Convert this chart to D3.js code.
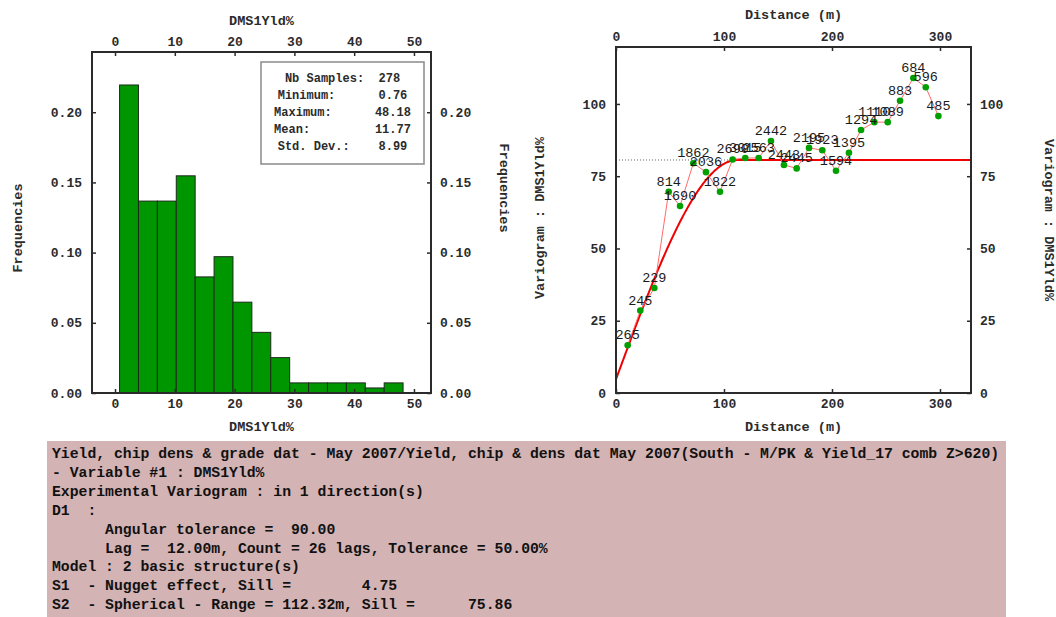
<!DOCTYPE html>
<html>
<head>
<meta charset="utf-8">
<script src="https://cdn.jsdelivr.net/npm/d3@7"></script>
<style>
  body { margin: 0; background: #fff; }
  svg { display: block; }
  text { font-family: "Liberation Mono", "DejaVu Sans Mono", monospace; }
</style>
</head>
<body>
<svg id="chart" width="1056" height="617"></svg>
<script>
// ---- Histogram of DMS1Yld% ----
const binStart = 0.76;
const binEnd = 48.18;
const binFreq = [0.2194, 0.1367, 0.1367, 0.1547, 0.0827, 0.0971, 0.0647, 0.0432,
                 0.0252, 0.0072, 0.0072, 0.0072, 0.0072, 0.0036, 0.0072];
const histXTicks = [0, 10, 20, 30, 40, 50];
const histYTicks = [0, 0.05, 0.10, 0.15, 0.20];
const statLabels = ["Nb Samples:", "Minimum:", "Maximum:", "Mean:", "Std. Dev.:"];
const statValues = ["278", "0.76", "48.18", "11.77", "8.99"];
const statGaps = [2, 6, 6, 9, 4];

// ---- Experimental variogram (lag 12 m) ----
const lagDist = [10.8, 22.5, 35.5, 48.8, 59.3, 71.6, 83.3, 96.3, 108.0, 119.7, 132.1, 143.5, 155.5,
                 167.3, 178.7, 191.0, 203.7, 215.7, 226.9, 239.2, 251.6, 263.0, 275.3, 286.8, 298.5];
const lagGamma = [16.5, 28.5, 36.3, 69.6, 64.7, 79.5, 76.4, 69.6, 80.8, 81.3, 81.3, 87.2, 78.9,
                  77.7, 84.8, 84.0, 76.9, 83.1, 91.0, 93.7, 93.7, 101.1, 109.0, 105.8, 95.8];
const lagPairs = [265, 245, 229, 814, 1690, 1862, 2036, 1822, 2690, 3015, 2563, 2442, 2443,
                  2445, 2195, 1923, 1594, 1395, 1294, 1110, 1089, 883, 684, 596, 485];
const vgXTicks = [0, 100, 200, 300];
const vgYTicks = [0, 25, 50, 75, 100];
const nuggetSill = 4.75;
const sphSill = 75.86;
const sphRange = 112.32;

// ---- Report text ----
const reportLines = [
  "Yield, chip dens & grade dat - May 2007/Yield, chip & dens dat May 2007(South - M/PK & Yield_17 comb Z>620)",
  "- Variable #1 : DMS1Yld%",
  "Experimental Variogram : in 1 direction(s)",
  "D1  :",
  "      Angular tolerance =  90.00",
  "      Lag =  12.00m, Count = 26 lags, Tolerance = 50.00%",
  "Model : 2 basic structure(s)",
  "S1  - Nugget effect, Sill =        4.75",
  "S2  - Spherical - Range = 112.32m, Sill =      75.86"
];

const svg = d3.select("#chart");
const ink = "#2b2b2b";

svg.append("defs").append("clipPath").attr("id", "plots")
  .append("rect").attr("x", 0).attr("y", 0).attr("width", 1056).attr("height", 437);
const plots = svg.append("g").attr("clip-path", "url(#plots)");

// draws four framed axes with inward ticks
function frameAxes(g, x, y, xTicks, yTicks, yFmt, xFmt) {
  const [x0, x1] = x.range();
  const [y0, y1] = y.range(); // y0 bottom, y1 top
  const style = sel => {
    sel.select(".domain").remove();
    sel.selectAll(".tick line").attr("stroke", ink).attr("stroke-width", 1.5);
    sel.selectAll(".tick text").attr("fill", ink).attr("font-size", 13).attr("font-weight", "bold")
      .attr("font-family", "Liberation Mono, monospace");
  };
  g.append("g").attr("transform", `translate(0,${y0})`)
    .call(d3.axisBottom(x).tickValues(xTicks).tickFormat(xFmt).tickSizeInner(-4).tickSizeOuter(0).tickPadding(6))
    .call(style);
  g.append("g").attr("transform", `translate(0,${y1})`)
    .call(d3.axisTop(x).tickValues(xTicks).tickFormat(xFmt).tickSizeInner(-4).tickSizeOuter(0).tickPadding(6))
    .call(style);
  g.append("g").attr("transform", `translate(${x0},0)`)
    .call(d3.axisLeft(y).tickValues(yTicks).tickFormat(yFmt).tickSizeInner(-4).tickSizeOuter(0).tickPadding(10))
    .call(style);
  g.append("g").attr("transform", `translate(${x1},0)`)
    .call(d3.axisRight(y).tickValues(yTicks).tickFormat(yFmt).tickSizeInner(-4).tickSizeOuter(0).tickPadding(9))
    .call(style);
  g.append("rect").attr("x", x0).attr("y", y1).attr("width", x1 - x0).attr("height", y0 - y1)
    .attr("fill", "none").attr("stroke", ink).attr("stroke-width", 2);
}

function title(g, txt, x, y, rot) {
  g.append("text").attr("transform", `translate(${x},${y}) rotate(${rot || 0})`)
    .attr("text-anchor", "middle").attr("font-size", 13.5).attr("font-weight", "bold")
    .attr("fill", ink).text(txt);
}

// ================= Histogram =================
const hx = d3.scaleLinear().domain([-3.85, 52.85]).range([92, 431]);
const hy = d3.scaleLinear().domain([0, 0.2429]).range([393, 52]);
const hist = plots.append("g");
const binW = (binEnd - binStart) / binFreq.length;

hist.selectAll("rect.bar").data(binFreq).join("rect").attr("class", "bar")
  .attr("x", (d, i) => hx(binStart + i * binW))
  .attr("width", hx(binStart + binW) - hx(binStart))
  .attr("y", d => hy(d))
  .attr("height", d => hy(0) - hy(d))
  .attr("fill", "#009600").attr("stroke", "#1e2a1e").attr("stroke-width", 1);

frameAxes(hist, hx, hy, histXTicks, histYTicks, d3.format(".2f"), d3.format("d"));
title(hist, "DMS1Yld%", 261.5, 25);
title(hist, "DMS1Yld%", 261.5, 431);
title(hist, "Frequencies", 21.5, 228, -90);
title(hist, "Frequencies", 500, 188, 90);

// statistics box
const stats = hist.append("g");
stats.append("rect").attr("x", 261).attr("y", 62).attr("width", 163).attr("height", 102)
  .attr("fill", "#fff").attr("stroke", "#8a8a8a").attr("stroke-width", 1.5);
stats.selectAll("text").data(statLabels).join("text")
  .attr("x", 342.5).attr("y", (d, i) => 82 + i * 16.9)
  .attr("text-anchor", "middle").attr("xml:space", "preserve").style("white-space", "pre")
  .attr("font-size", 12).attr("font-weight", "bold").attr("fill", ink)
  .text((d, i) => d + " ".repeat(statGaps[i]) + statValues[i]);

// ================= Variogram =================
const vx = d3.scaleLinear().domain([0, 328.7]).range([616, 971]);
const vy = d3.scaleLinear().domain([0, 119.7]).range([393, 47]);
const vg = plots.append("g");

// total sill reference
vg.append("line").attr("x1", vx(0)).attr("x2", vx(328.7))
  .attr("y1", vy(nuggetSill + sphSill)).attr("y2", vy(nuggetSill + sphSill))
  .attr("stroke", "#666").attr("stroke-width", 1).attr("stroke-dasharray", "1,2");

// fitted model: nugget + spherical
const modelH = d3.range(0, 328.7, 0.5).concat([328.7]);
const spherical = h => h >= sphRange ? nuggetSill + sphSill
  : nuggetSill + sphSill * (1.5 * h / sphRange - 0.5 * Math.pow(h / sphRange, 3));
vg.append("path").datum(modelH)
  .attr("d", d3.line().x(h => vx(h)).y(h => vy(spherical(h))))
  .attr("fill", "none").attr("stroke", "#f00000").attr("stroke-width", 2);

// experimental points
const pts = lagDist.map((d, i) => ({ d, g: lagGamma[i], n: lagPairs[i] }));
vg.append("path").datum(pts)
  .attr("d", d3.line().x(p => vx(p.d)).y(p => vy(p.g)))
  .attr("fill", "none").attr("stroke", "#ff6a6a").attr("stroke-width", 1);
vg.selectAll("circle").data(pts).join("circle")
  .attr("cx", p => vx(p.d)).attr("cy", p => vy(p.g)).attr("r", 3.3).attr("fill", "#00a000");
vg.selectAll("text.pairs").data(pts).join("text").attr("class", "pairs")
  .attr("x", p => vx(p.d)).attr("y", p => vy(p.g) - 6)
  .attr("text-anchor", "middle").attr("font-size", 13.5).attr("fill", "#1a1a1a")
  .text(p => p.n);

frameAxes(vg, vx, vy, vgXTicks, vgYTicks, d3.format("d"), d3.format("d"));
title(vg, "Distance (m)", 793.5, 18.5);
title(vg, "Distance (m)", 793.5, 431);
title(vg, "Variogram : DMS1Yld%", 544, 218, -90);
title(vg, "Variogram : DMS1Yld%", 1045, 220, 90);

// ================= Report panel =================
const rep = svg.append("g");
rep.append("rect").attr("x", 47).attr("y", 441).attr("width", 959).attr("height", 176).attr("fill", "#d3b3b3");
rep.selectAll("text").data(reportLines).join("text")
  .attr("x", 52).attr("y", (d, i) => 458 + i * 18.9)
  .attr("xml:space", "preserve").style("white-space", "pre")
  .attr("font-size", 14.76).attr("font-weight", "bold").attr("fill", "#111")
  .text(d => d);
</script>
</body>
</html>
